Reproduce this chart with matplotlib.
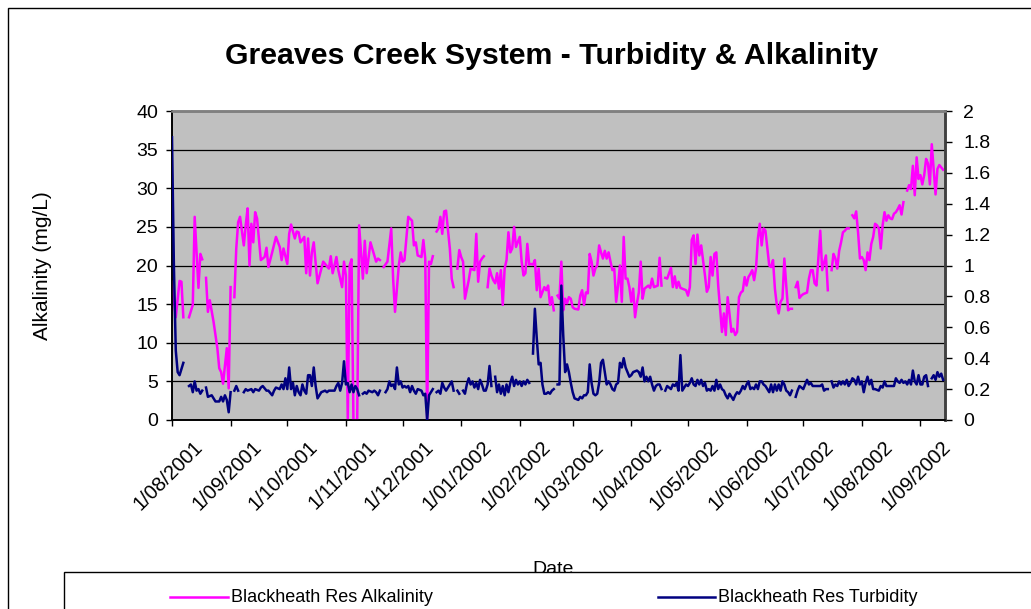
import numpy as np
import pandas as pd
import matplotlib
matplotlib.use("Agg")
import matplotlib.pyplot as plt
import matplotlib.dates as mdates
import matplotlib.transforms as mtransforms
from matplotlib.ticker import FuncFormatter, MultipleLocator
from matplotlib.patches import Rectangle
from matplotlib.lines import Line2D

nan = float("nan")

# Sampling days are counted from the first day of the record; nan marks a missing reading.
START = "2001-08-01"
END = "2002-09-14"
TITLE = "Greaves Creek System - Turbidity & Alkalinity"
ALK_NAME = "Blackheath Res Alkalinity"
TURB_NAME = "Blackheath Res Turbidity"
ALK_LABEL = "Alkalinity (mg/L)"
X_LABEL = "Date"

# Alkalinity (mg/L): (day, value)
alkalinity = [
    (0, 17.9), (2, 13.3), (4, 18.0), (5, 17.9), (6, 13.3), (8, nan),
    (9, 13.3), (11, 14.9), (12, 26.3), (14, 17.1), (15, 21.5), (16, 20.8), (17, nan),
    (18, 18.4), (19, 14.0), (20, 15.5), (22, 12.7), (24, 9.3), (25, 6.7), (26, 6.2),
    (27, 4.7), (29, 9.3), (30, 4.1), (31, 17.2), (32, nan),
    (33, 15.9), (34, 22.2), (35, 25.6), (36, 26.3), (38, 22.6), (39, 25.2), (40, 27.4),
    (41, 20.0), (42, 25.4), (43, 23.0), (44, 26.9), (45, 26.1), (47, 20.7), (49, 21.1),
    (50, 22.3), (51, 19.8), (53, 21.7), (55, 23.7), (57, 22.4), (58, 20.7), (59, 22.2),
    (61, 20.2), (62, 24.1), (63, 25.3), (65, 23.5), (66, 24.4), (67, 24.3), (68, 23.0),
    (70, 23.7), (71, 19.0), (72, 23.5), (73, 18.7), (74, 21.7), (75, 23.0), (77, 17.7),
    (79, 19.6), (80, 20.5), (83, 19.6), (84, 21.2), (85, 19.0), (87, 21.1), (88, 19.4),
    (90, 17.2), (91, 20.5), (92, 18.7), (93, 0.0), (94, 20.0), (95, 20.8), (96, 0.0),
    (97, 0.0), (98, 0.0), (99, 25.2), (101, 18.3), (102, 23.2), (103, 19.0), (104, 21.0),
    (105, 23.0), (107, 21.3), (108, 20.5), (109, 20.9), (110, 20.7), (111, nan),
    (112, 19.8), (114, 20.5), (116, 24.8), (117, 18.3), (118, 14.0), (120, 20.0),
    (121, 21.7), (122, 20.5), (123, 20.7), (125, 26.3), (127, 25.8), (128, 22.6),
    (129, 23.0), (130, 21.3), (132, 21.1), (133, 23.3), (134, 20.9), (135, 0.0),
    (136, 20.5), (137, 20.2), (138, 21.2), (139, nan),
    (140, 24.4), (141, 24.8), (142, 26.3), (143, 24.1), (144, 27.0), (145, 27.1),
    (147, 22.2), (148, 18.3), (149, 17.2), (150, nan),
    (151, 19.6), (152, 22.0), (153, 21.1), (154, 20.5), (155, 15.7), (157, 18.1),
    (158, 19.6), (160, 19.4), (161, 24.1), (162, 17.9), (163, 20.5), (164, 20.9),
    (165, 21.2), (166, nan),
    (167, 17.2), (168, 19.6), (169, 18.7), (170, 18.1), (171, 17.7), (172, 19.0),
    (173, 17.0), (174, 19.4), (175, 14.9), (176, 19.6), (177, 20.7), (178, 24.3),
    (179, 21.7), (180, 22.2), (181, 25.0), (182, 22.4), (184, 23.7), (185, 20.5),
    (186, 18.7), (187, 19.0), (188, 22.8), (189, 20.1), (190, 20.2), (191, 20.1),
    (192, 20.7), (193, 16.8), (194, 19.6), (195, 15.9), (197, 17.2), (198, 16.8),
    (199, 17.4), (200, 14.9), (201, 15.9), (202, 14.2), (203, nan),
    (204, 16.1), (205, 15.7), (206, 20.5), (207, 14.2), (208, 15.7), (209, 15.1),
    (210, 15.9), (211, 15.7), (212, 14.6), (213, 14.4), (215, 14.3), (216, 16.1),
    (217, 16.8), (218, 14.9), (219, 16.5), (220, 16.4), (221, 21.5), (222, 20.5),
    (223, 18.7), (224, 19.6), (225, 20.0), (226, 22.6), (227, 21.7), (228, 20.9),
    (229, 21.9), (230, 20.9), (231, 21.7), (232, 20.5), (233, 19.4), (234, 19.6),
    (235, 15.3), (236, 17.4), (237, 20.0), (238, 15.3), (239, 23.7), (240, 18.3),
    (241, 18.3), (242, 17.2), (243, 15.3), (244, 17.0), (245, 13.3), (246, 15.1),
    (247, 16.5), (248, 20.5), (249, 15.7), (250, 17.0), (251, 17.2), (252, 17.4),
    (253, 17.1), (254, 18.3), (255, 17.2), (257, 17.4), (258, 21.0), (259, 17.4),
    (260, nan),
    (261, 18.4), (262, 18.3), (264, 19.7), (265, 17.2), (266, 18.6), (267, 17.1),
    (268, 17.9), (269, 17.1), (270, 17.0), (272, 16.8), (273, 16.1), (274, 17.2),
    (275, 23.3), (276, 23.9), (277, 20.2), (278, 24.0), (279, 21.3), (280, 22.6),
    (282, 18.7), (283, 16.6), (284, 17.2), (285, 21.1), (286, 18.7), (287, 21.5),
    (288, 21.7), (289, 17.4), (290, 14.4), (291, 11.4), (292, 13.8), (293, 11.0),
    (294, 15.9), (296, 11.4), (297, 11.8), (298, 11.0), (299, 11.4), (300, 15.9),
    (301, 16.5), (302, 16.7), (303, 18.5), (304, 17.4), (305, 18.5), (306, 18.9),
    (307, 19.4), (308, 18.1), (309, 19.6), (310, 23.5), (311, 25.4), (312, 22.6),
    (313, 24.8), (314, 24.5), (315, 22.2), (316, 20.0), (317, 19.8), (318, 20.7),
    (319, 17.0), (320, 14.9), (321, 13.8), (322, 15.3), (323, 15.7), (324, 20.9),
    (325, 17.4), (326, 14.2), (327, 14.4), (328, 14.4), (329, nan),
    (330, 17.2), (331, 17.9), (332, 15.8), (333, 16.1), (334, 16.3), (336, 16.5),
    (337, 18.3), (338, 19.4), (339, 19.4), (340, 17.7), (341, 17.4), (343, 24.5),
    (344, 19.4), (346, 21.3), (347, 16.8), (348, nan),
    (349, 19.4), (350, 21.5), (351, 20.9), (352, 19.6), (353, 21.9), (354, 23.0),
    (355, 24.3), (356, 24.5), (357, 24.8), (358, 24.8), (359, nan),
    (360, 26.5), (361, 26.1), (362, 27.0), (363, 24.3), (364, 20.9), (365, 21.1),
    (366, 20.7), (367, 19.4), (368, 21.7), (369, 20.7), (370, 22.8), (371, 23.7),
    (372, 25.4), (373, 25.2), (374, 24.8), (375, 22.2), (376, 25.2), (377, 26.9),
    (378, 25.8), (379, 26.5), (380, 26.1), (381, 26.0), (382, 26.7), (383, 26.9),
    (384, 27.3), (385, 27.8), (386, 26.6), (387, 28.2), (388, nan),
    (389, 29.7), (390, 30.4), (391, 29.9), (392, 32.9), (393, 29.1), (394, 34.0),
    (395, 31.2), (396, 31.7), (397, 30.5), (398, 31.7), (399, 33.8), (400, 33.2),
    (401, 30.5), (402, 35.7), (403, 32.5), (404, 29.2), (405, 32.5), (406, 33.0),
    (407, 32.7), (408, 32.4),
]

# Turbidity (secondary axis): (day, value)
turbidity = [
    (0, 1.83), (1, 1.00), (2, 0.45), (3, 0.31), (4, 0.29), (5, 0.33), (6, 0.37), (8, nan),
    (9, 0.22), (10, 0.23), (11, 0.18), (12, 0.25), (13, 0.19), (14, 0.20), (15, 0.17),
    (16, 0.19), (17, nan),
    (18, 0.21), (19, 0.15), (21, 0.16), (22, 0.14), (23, 0.12), (25, 0.12), (26, 0.15),
    (27, 0.12), (28, 0.16), (29, 0.13), (30, 0.05), (31, 0.18), (32, nan),
    (33, 0.19), (34, 0.22), (35, 0.19), (36, nan),
    (38, 0.18), (39, 0.20), (40, 0.19), (42, 0.20), (43, 0.18), (44, 0.20), (46, 0.19),
    (47, 0.21), (48, 0.22), (50, 0.19), (51, 0.19), (53, 0.16), (54, 0.19), (55, 0.21),
    (57, 0.20), (58, 0.23), (59, 0.20), (60, 0.27), (61, 0.20), (62, 0.34), (63, 0.20),
    (64, 0.24), (65, 0.16), (66, 0.22), (67, 0.18), (68, 0.16), (69, 0.23), (70, 0.19),
    (71, 0.17), (72, 0.29), (73, 0.29), (74, 0.22), (75, 0.34), (76, 0.22), (77, 0.14),
    (79, 0.18), (81, 0.19), (82, 0.18), (83, 0.19), (86, 0.19), (87, 0.22), (88, 0.24),
    (89, 0.19), (90, 0.24), (91, 0.38), (92, 0.23), (93, 0.24), (94, 0.18), (95, 0.23),
    (96, 0.18), (97, 0.22), (98, 0.20), (99, 0.16), (100, nan),
    (101, 0.17), (102, 0.18), (103, 0.17), (104, 0.19), (106, 0.18), (107, 0.19),
    (108, 0.18), (109, 0.16), (110, 0.19), (111, nan),
    (113, 0.18), (114, 0.20), (115, 0.25), (116, 0.22), (117, 0.23), (118, 0.20),
    (119, 0.34), (120, 0.23), (121, 0.25), (122, 0.21), (123, 0.22), (124, 0.21),
    (125, 0.22), (126, 0.18), (127, 0.22), (128, 0.19), (129, 0.17), (130, 0.20),
    (132, 0.19), (133, 0.16), (134, 0.17), (135, 0.0), (136, 0.16), (137, 0.18),
    (138, 0.20), (139, nan),
    (140, 0.18), (141, 0.19), (142, 0.17), (143, 0.24), (144, 0.21), (145, 0.19),
    (147, 0.23), (148, 0.25), (149, 0.19), (150, nan),
    (151, 0.19), (152, 0.17), (153, nan),
    (154, 0.19), (155, 0.17), (156, 0.23), (157, 0.27), (158, 0.23), (159, 0.25),
    (160, 0.21), (161, 0.24), (162, 0.20), (163, 0.26), (164, 0.23), (165, 0.19),
    (166, 0.19), (167, 0.23), (168, 0.35), (169, 0.22), (170, nan),
    (171, 0.28), (172, 0.18), (173, 0.23), (174, 0.17), (175, 0.22), (176, 0.16),
    (177, 0.23), (178, 0.18), (179, 0.24), (180, 0.28), (181, 0.22), (182, 0.26),
    (183, 0.23), (184, 0.25), (185, 0.22), (186, 0.25), (187, 0.23), (188, 0.26),
    (189, 0.24), (190, nan),
    (191, 0.43), (192, 0.72), (193, 0.53), (194, 0.36), (195, 0.37), (196, 0.23),
    (197, 0.17), (198, 0.17), (199, 0.18), (200, 0.17), (201, 0.19), (202, 0.20),
    (203, nan),
    (204, 0.23), (205, 0.23), (206, 0.87), (207, 0.55), (208, 0.31), (209, 0.36),
    (210, 0.31), (211, 0.24), (212, 0.18), (213, 0.14), (215, 0.13), (216, 0.15),
    (217, 0.14), (218, 0.16), (219, 0.16), (220, 0.18), (221, 0.36), (222, 0.24),
    (223, 0.17), (224, 0.16), (225, 0.17), (226, 0.24), (227, 0.37), (228, 0.39),
    (229, 0.31), (230, 0.23), (231, 0.25), (232, 0.23), (233, 0.20), (234, 0.19),
    (235, 0.23), (236, 0.24), (237, 0.37), (238, 0.34), (239, 0.40), (240, 0.34),
    (242, 0.28), (243, 0.29), (244, 0.31), (246, 0.32), (247, 0.31), (248, 0.28),
    (249, 0.34), (250, 0.25), (251, 0.28), (252, 0.25), (253, 0.28), (254, 0.23),
    (255, 0.19), (256, 0.22), (257, 0.23), (258, 0.23), (259, 0.20), (260, nan),
    (261, 0.19), (262, 0.22), (264, 0.20), (265, 0.23), (266, 0.22), (267, 0.24),
    (268, 0.19), (269, 0.42), (270, 0.19), (271, 0.21), (272, 0.23), (273, 0.22),
    (274, 0.24), (275, 0.27), (276, 0.23), (277, 0.22), (278, 0.26), (279, 0.23),
    (280, 0.26), (281, 0.22), (282, 0.24), (283, 0.19), (284, 0.20), (285, 0.19),
    (286, 0.22), (287, 0.19), (288, 0.26), (289, 0.20), (290, 0.23), (291, 0.20),
    (292, 0.19), (293, 0.16), (294, 0.14), (295, 0.17), (296, 0.15), (297, 0.13),
    (298, 0.16), (299, 0.18), (300, 0.17), (301, 0.19), (302, 0.22), (303, 0.20),
    (304, 0.23), (305, 0.25), (306, 0.20), (307, 0.21), (308, 0.20), (309, 0.23),
    (310, 0.20), (311, 0.25), (312, 0.25), (313, 0.23), (314, 0.22), (315, 0.20),
    (316, 0.18), (317, 0.23), (318, 0.18), (319, 0.23), (320, 0.19), (321, 0.23),
    (322, 0.19), (323, 0.25), (324, 0.23), (325, 0.19), (326, 0.18), (327, 0.16),
    (328, 0.19), (329, nan),
    (330, 0.15), (331, 0.19), (332, 0.22), (333, 0.21), (334, 0.20), (335, 0.23),
    (336, 0.26), (337, 0.23), (338, 0.24), (339, 0.22), (340, 0.22), (341, 0.22),
    (342, 0.22), (343, 0.22), (344, 0.23), (345, 0.19), (346, 0.20), (347, 0.20),
    (348, nan),
    (349, 0.25), (350, 0.21), (351, 0.23), (352, 0.22), (353, 0.25), (354, 0.23),
    (355, 0.25), (356, 0.23), (357, 0.26), (358, 0.22), (359, 0.24), (360, 0.27),
    (361, 0.26), (362, 0.23), (363, 0.28), (364, 0.23), (365, 0.25), (366, 0.18),
    (367, 0.24), (368, 0.28), (369, 0.23), (370, 0.26), (371, 0.20), (372, 0.20),
    (374, 0.19), (375, 0.22), (376, 0.21), (377, 0.25), (378, 0.22), (380, 0.22),
    (382, 0.22), (383, 0.27), (384, 0.25), (385, 0.24), (386, 0.26), (387, 0.24),
    (388, 0.25), (389, 0.23), (390, 0.26), (391, 0.23), (392, 0.32), (393, 0.25),
    (394, 0.23), (395, 0.29), (396, 0.23), (397, 0.23), (398, 0.28), (399, 0.29),
    (400, 0.22), (401, nan),
    (402, 0.27), (403, 0.29), (404, 0.26), (405, 0.31), (406, 0.28), (407, 0.30),
    (408, 0.26),
]

ALK_COLOR = "#FF00FF"
TURB_COLOR = "#000080"


def to_series(points):
    days, vals = zip(*points)
    dates = pd.Timestamp(START) + pd.to_timedelta(np.array(days), unit="D")
    return dates, np.array(vals, dtype=float)


plt.rcParams["font.family"] = ["Liberation Sans", "DejaVu Sans"]

W, H = 1031, 609
fig = plt.figure(figsize=(W / 100, H / 100), dpi=100)
fig.patch.set_facecolor("white")

# plot area in pixel terms
L, R, T, B = 172, 945, 111, 420
ax = fig.add_axes([L / W, 1 - B / H, (R - L) / W, (B - T) / H])
ax.set_facecolor("#C0C0C0")

alk_x, alk_y = to_series(alkalinity)
turb_x, turb_y = to_series(turbidity)

ax.plot(alk_x, alk_y, color=ALK_COLOR, lw=1.8, solid_joinstyle="round", zorder=3)
ax.set_ylim(0, 40)
ax.yaxis.set_major_locator(MultipleLocator(5))
ax.set_xlim(pd.Timestamp(START), pd.Timestamp(END))
ax.set_axisbelow(True)
ax.yaxis.grid(True, color="black", lw=0.9)

ax2 = ax.twinx()
ax2.plot(turb_x, turb_y, color=TURB_COLOR, lw=1.8, solid_joinstyle="round", zorder=3)
ax2.set_ylim(0, 2)
ax2.yaxis.set_major_locator(MultipleLocator(0.2))
ax2.yaxis.set_major_formatter(FuncFormatter(lambda v, p: f"{v:g}"))

# month ticks on the date axis
ax.xaxis.set_major_locator(mdates.MonthLocator(bymonthday=1))
ax.xaxis.set_major_formatter(
    FuncFormatter(lambda v, p: (lambda d: f"{d.day}/{d.month:02d}/{d.year}")(mdates.num2date(v)))
)

FS = 14
ax.tick_params(axis="y", direction="out", length=4, width=1, labelsize=FS, pad=6)
ax2.tick_params(axis="y", direction="out", length=5, width=1, labelsize=FS, pad=8)
ax.tick_params(axis="x", direction="out", length=4, width=1, labelsize=14.5, pad=2)
shift = mtransforms.ScaledTranslation(21 / 100, -9 / 100, fig.dpi_scale_trans)
for lab in ax.get_xticklabels():
    lab.set_rotation(45)
    lab.set_ha("right")
    lab.set_va("top")
    lab.set_rotation_mode("anchor")
    lab.set_transform(lab.get_transform() + shift)

for a in (ax, ax2):
    a.spines["top"].set_color("#808080")
    a.spines["top"].set_linewidth(1.8)
    a.spines["right"].set_color("#404040")
    a.spines["right"].set_linewidth(1.8)
    a.spines["left"].set_color("black")
    a.spines["left"].set_linewidth(1.2)
    a.spines["bottom"].set_color("black")
    a.spines["bottom"].set_linewidth(1.2)

ax.set_ylabel(ALK_LABEL, fontsize=15)
ax.yaxis.set_label_coords((52 - L) / (R - L), 0.5)
ax.set_xlabel(X_LABEL, fontsize=FS)
ax.xaxis.set_label_coords((553 - L) / (R - L), -(561 - B) / (B - T))

fig.text(552 / W, 1 - 56 / H, TITLE, ha="center", va="center",
         fontsize=21.8, fontweight="bold")

# chart frame
fig.patches.append(Rectangle((8 / W, -0.1), 1.2, 1 - 8 / H + 0.1, transform=fig.transFigure,
                             fill=False, edgecolor="black", lw=1.0, zorder=4))

# legend box along the bottom edge
fig.patches.append(Rectangle((64 / W, -0.1), 1.2, 0.1 + 1 - 572 / H, transform=fig.transFigure,
                             facecolor="white", edgecolor="black", lw=1.0, zorder=5))
ly = 1 - 597 / H
for x0, x1, col, name in ((170, 228, ALK_COLOR, ALK_NAME), (658, 715, TURB_COLOR, TURB_NAME)):
    fig.lines.append(Line2D([x0 / W, x1 / W], [ly, ly], transform=fig.transFigure,
                            color=col, lw=1.8, zorder=6))
    fig.text((x1 + 3) / W, ly, name, ha="left", va="center", fontsize=13, zorder=6)

fig.savefig("out.png", dpi=100)
